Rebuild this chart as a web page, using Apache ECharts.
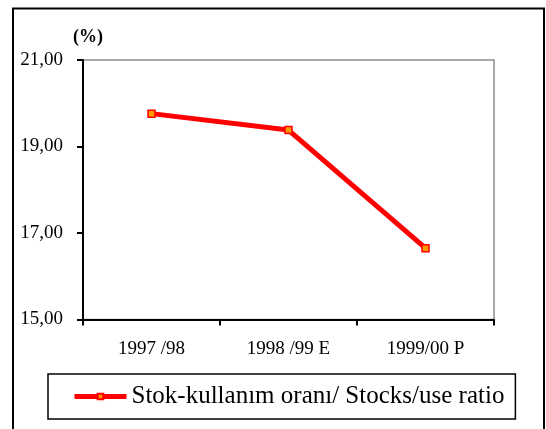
<!DOCTYPE html>
<html>
<head>
<meta charset="utf-8">
<script src="https://cdn.jsdelivr.net/npm/echarts@6/dist/echarts.min.js"></script>
<style>
  html, body { margin: 0; padding: 0; background: #fff; }
  #chart { width: 546px; height: 429px; }
</style>
</head>
<body>
<div id="chart"></div>
<script>
// sezonlar (x ekseni)
var seasons = ['1997 /98', '1998 /99 E', '1999/00 P'];
// stok-kullanım oranı, %
var stockUseRatio = [19.76, 19.38, 16.65];
var seriesName = 'Stok-kullanım oranı/ Stocks/use ratio';
var yMin = 15, yMax = 21, yStep = 2;

var myChart = echarts.init(document.getElementById('chart'));
var serif = '"Liberation Serif", "Times New Roman", serif';
var option = {
    backgroundColor: '#fff',
    animation: false,
    graphic: [
        {
            type: 'rect',
            shape: { x: 13, y: 8.5, width: 531, height: 440 },
            style: { fill: 'none', stroke: '#000', lineWidth: 2 },
            silent: true
        },
        {
            type: 'text',
            left: 73,
            top: 28,
            style: { text: '(%)', font: 'bold 18px ' + serif, fill: '#000' }
        }
    ],
    grid: {
        left: 83,
        right: 52,
        top: 60,
        bottom: 109.5,
        show: true,
        borderColor: '#8c8c8c',
        borderWidth: 1.5
    },
    legend: {
        left: 48,
        top: 374,
        padding: [10, 11, 10, 24],
        borderColor: '#000',
        borderWidth: 1.5,
        itemWidth: 52,
        itemHeight: 7,
        itemGap: 8,
        lineStyle: { width: 5 },
        textStyle: { fontFamily: serif, fontSize: 25, color: '#000' },
        data: [seriesName]
    },
    xAxis: {
        type: 'category',
        boundaryGap: true,
        data: seasons,
        axisLine: { lineStyle: { color: '#000', width: 2 } },
        axisTick: { show: true, length: 6, lineStyle: { color: '#000', width: 2 } },
        axisLabel: { margin: 20, fontFamily: serif, fontSize: 19, color: '#000' },
        splitLine: { show: false }
    },
    yAxis: {
        type: 'value',
        min: yMin,
        max: yMax,
        interval: yStep,
        axisLine: { show: true, lineStyle: { color: '#000', width: 2 } },
        axisTick: { show: true, length: 6, lineStyle: { color: '#000', width: 2 } },
        axisLabel: {
            margin: 20,
            fontFamily: serif,
            fontSize: 19,
            color: '#000',
            formatter: function (v) { return v.toFixed(2).replace('.', ','); }
        },
        splitLine: { show: false }
    },
    series: [
        {
            name: seriesName,
            type: 'line',
            data: stockUseRatio,
            symbol: 'rect',
            symbolSize: 7,
            lineStyle: { color: '#ff0000', width: 5 },
            itemStyle: { color: '#ff9900', borderColor: '#ff0000', borderWidth: 1.5 }
        }
    ]
};
myChart.setOption(option);
</script>
</body>
</html>
